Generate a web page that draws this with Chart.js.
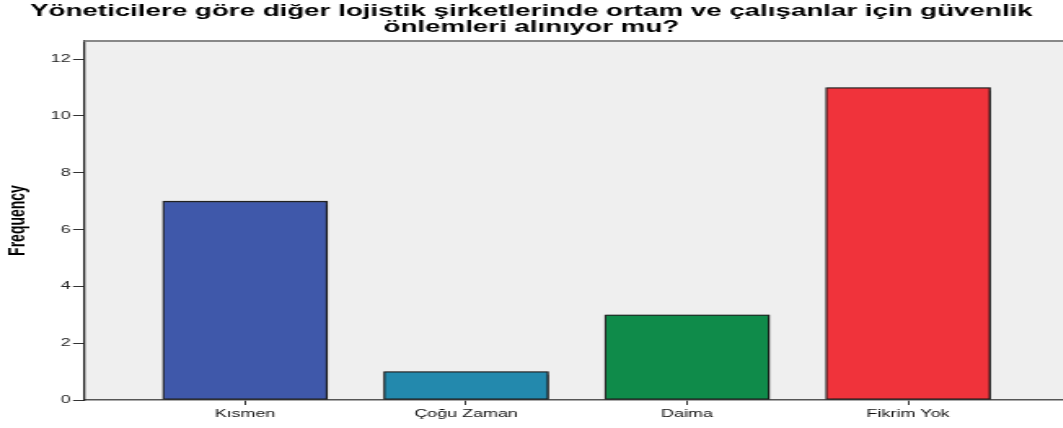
<!DOCTYPE html>
<html><head><meta charset="utf-8">
<script src="https://cdn.jsdelivr.net/npm/chart.js@4"></script>
<style>
html,body{margin:0;padding:0;background:#fff;overflow:hidden}
#wrap{width:1063px;height:428px;overflow:hidden}
#c{transform:scaleX(1.63);transform-origin:0 0;display:block}
</style>
</head><body><div id="wrap"><canvas id="c" width="652" height="428"></canvas></div>
<script>
const categories = ['Kısmen', 'Çoğu Zaman', 'Daima', 'Fikrim Yok'];
const frequencies = [7, 1, 3, 11];
const barColors = ['#3f58aa', '#2389ad', '#0f8b4a', '#f0333b'];
const yTicks = [0, 2, 4, 6, 8, 10, 12];
const titleLines = ['Yöneticilere göre diğer lojistik şirketlerinde ortam ve çalışanlar için güvenlik', 'önlemleri alınıyor mu?'];

const bgPlugin = {
  id: 'bg',
  beforeDraw(chart) {
    const {ctx, chartArea: a} = chart;
    ctx.save();
    ctx.fillStyle = '#efefef';
    ctx.fillRect(a.left, a.top, a.right - a.left, a.bottom - a.top);
    ctx.restore();
  },
  beforeDatasetsDraw(chart) {
    const ctx = chart.ctx;
    ctx.save();
    ctx.shadowColor = 'rgba(0,0,0,0.35)';
    ctx.shadowOffsetX = 1.2;
    ctx.shadowOffsetY = 0;
    ctx.shadowBlur = 1;
  },
  afterDatasetsDraw(chart) {
    chart.ctx.restore();
  },
  afterDraw(chart) {
    const {ctx, chartArea: a} = chart;
    ctx.save();
    ctx.strokeStyle = '#888';
    ctx.lineWidth = 2;
    ctx.beginPath();
    ctx.moveTo(a.left, a.top);
    ctx.lineTo(a.right, a.top);
    ctx.stroke();
    ctx.restore();
  }
};

new Chart(document.getElementById('c'), {
  type: 'bar',
  data: {
    datasets: [{
      data: frequencies.map((v, i) => ({x: i, y: v})),
      backgroundColor: barColors,
      borderColor: '#222',
      borderWidth: 1.3,
      borderSkipped: false,
      barThickness: 101
    }]
  },
  options: {
    responsive: false,
    animation: false,
    devicePixelRatio: 1,
    layout: {padding: 0},
    plugins: {
      legend: {display: false},
      tooltip: {enabled: false},
      title: {
        display: true,
        text: titleLines,
        color: '#000',
        font: {family: 'Liberation Sans', size: 17, weight: 'bold', lineHeight: 0.97},
        padding: {top: 3, bottom: 5}
      }
    },
    scales: {
      x: {
        type: 'linear',
        min: -0.729,
        max: 3.70,
        offset: false,
        afterBuildTicks(scale) { scale.ticks = categories.map((c, i) => ({value: i})); },
        afterFit(scale) { scale.height = 28; },
        ticks: {
          callback: (v) => categories[v],
          color: '#111',
          font: {family: 'Liberation Sans', size: 11},
          padding: 2,
          maxRotation: 0,
          autoSkip: false
        },
        grid: {offset: false, drawOnChartArea: false, drawTicks: true, tickLength: 5, color: '#333', lineWidth: 1},
        border: {display: true, color: '#555', width: 1.6}
      },
      y: {
        min: 0,
        max: 12.64,
        afterBuildTicks(scale) { scale.ticks = yTicks.map(v => ({value: v})); },
        afterFit(scale) { scale.width = 51.5; },
        ticks: {
          color: '#222',
          font: {family: 'Liberation Sans', size: 11},
          padding: 1.5
        },
        grid: {offset: false, drawOnChartArea: false, drawTicks: true, tickLength: 6.7, color: '#333', lineWidth: 1},
        border: {display: true, color: '#222', width: 1.3},
        title: {
          display: true,
          text: 'Frequency',
          color: '#000',
          font: {family: 'Liberation Sans', size: 14, weight: 'bold'},
          padding: {top: 2.5, bottom: 0}
        }
      }
    }
  },
  plugins: [bgPlugin]
});
</script></body></html>
